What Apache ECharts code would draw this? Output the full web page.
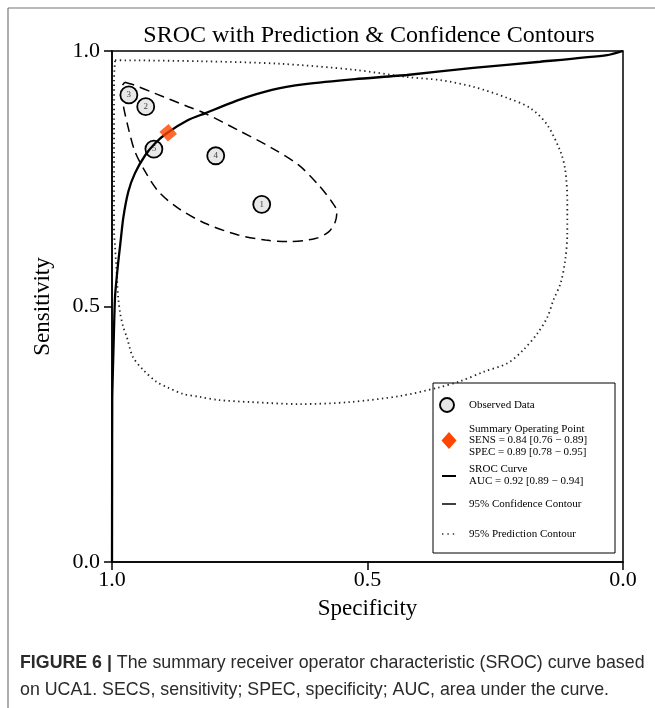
<!DOCTYPE html>
<html>
<head>
<meta charset="utf-8">
<script src="https://cdn.jsdelivr.net/npm/echarts@6/dist/echarts.min.js"></script>
<style>
  html, body { margin: 0; padding: 0; background: #fff; }
  #chart { width: 655px; height: 708px; }
</style>
</head>
<body>
<div id="chart"></div>
<script>
// Axis ticks
const tickValues = [0, 0.5, 1.0];

// Observed studies: [specificity, sensitivity], numbered 1..5
const studyIds = ['1', '2', '3', '4', '5'];
const studySpec = [0.707, 0.934, 0.967, 0.797, 0.918];
const studySens = [0.700, 0.891, 0.914, 0.795, 0.808];

// Summary operating point
const summarySpec = 0.89;
const summarySens = 0.84;

// SROC curve [specificity, sensitivity]
const srocCurve = [
  [1.0, 0.0], [0.9998, 0.15], [0.9995, 0.32], [0.997, 0.42], [0.994, 0.52],
  [0.988, 0.585], [0.984, 0.620], [0.978, 0.673], [0.968, 0.725], [0.955, 0.761],
  [0.935, 0.796], [0.916, 0.819], [0.893, 0.839], [0.851, 0.865], [0.818, 0.878],
  [0.753, 0.904], [0.687, 0.924], [0.622, 0.935], [0.524, 0.945], [0.423, 0.953],
  [0.293, 0.967], [0.162, 0.979], [0.031, 0.992], [0.0, 1.0]
];

// 95% confidence contour around the summary point
const confidenceContour = [
  [0.975, 0.939], [0.961, 0.935], [0.916, 0.917], [0.851, 0.891], [0.818, 0.878],
  [0.753, 0.845], [0.687, 0.810], [0.635, 0.777], [0.596, 0.738], [0.570, 0.705],
  [0.560, 0.686], [0.563, 0.666], [0.576, 0.646], [0.602, 0.633], [0.655, 0.627],
  [0.700, 0.630], [0.753, 0.640], [0.818, 0.663], [0.870, 0.692], [0.909, 0.725],
  [0.935, 0.764], [0.955, 0.803], [0.968, 0.849], [0.978, 0.894], [0.982, 0.927],
  [0.975, 0.939]
];

// 95% prediction contour
const predictionContour = [
  [0.994, 0.982], [0.828, 0.980], [0.671, 0.975], [0.524, 0.963], [0.422, 0.949],
  [0.357, 0.943], [0.293, 0.930], [0.226, 0.908], [0.181, 0.888], [0.148, 0.855],
  [0.122, 0.802], [0.113, 0.767], [0.109, 0.708], [0.109, 0.644], [0.113, 0.591],
  [0.122, 0.546], [0.136, 0.513], [0.148, 0.479], [0.167, 0.448], [0.195, 0.415],
  [0.226, 0.389], [0.273, 0.372], [0.318, 0.354], [0.363, 0.341], [0.436, 0.325],
  [0.534, 0.313], [0.632, 0.309], [0.730, 0.313], [0.792, 0.317], [0.828, 0.323],
  [0.861, 0.329], [0.892, 0.342], [0.912, 0.352], [0.939, 0.376], [0.959, 0.401],
  [0.971, 0.440], [0.978, 0.460], [0.984, 0.487], [0.988, 0.519], [0.990, 0.552],
  [0.994, 0.616], [0.996, 0.650], [0.996, 0.806], [0.996, 0.943], [0.994, 0.982]
];

// Legend text
const legendObserved = 'Observed Data';
const legendSummary = ['Summary Operating Point', 'SENS = 0.84 [0.76 \u2212 0.89]', 'SPEC = 0.89 [0.78 \u2212 0.95]'];
const legendSroc = ['SROC Curve', 'AUC = 0.92 [0.89 \u2212 0.94]'];
const legendConf = '95% Confidence Contour';
const legendPred = '95% Prediction Contour';

const serif = "'Liberation Serif', 'Times New Roman', serif";
const sans = "'Liberation Sans', Arial, sans-serif";

const chart = echarts.init(document.getElementById('chart'), null, { renderer: 'canvas' });

const studyData = studyIds.map((id, i) => ({ name: id, value: [studySpec[i], studySens[i]] }));

// Legend panel
const LX = 433, LY = 383, LW = 182, LH = 170;
const legendFont = { fontFamily: serif, fontSize: 11, fill: '#000' };
const legendText = (x, y, text) => ({
  type: 'text', x: x, y: y,
  style: Object.assign({ text: text, verticalAlign: 'middle', align: 'left' }, legendFont)
});
const legendGraphics = [
  { type: 'rect', shape: { x: LX, y: LY, width: LW, height: LH },
    style: { fill: '#fff', stroke: '#000', lineWidth: 1 } },
  { type: 'circle', shape: { cx: 447, cy: 405, r: 7 },
    style: { fill: '#e6e6e6', stroke: '#000', lineWidth: 1.9 } },
  legendText(469, 405, legendObserved),
  { type: 'polygon', shape: { points: [[449, 432], [456.5, 440.5], [449, 449], [441.5, 440.5]] },
    style: { fill: '#ff4500' } },
  legendText(469, 429, legendSummary[0]),
  legendText(469, 440.5, legendSummary[1]),
  legendText(469, 452, legendSummary[2]),
  { type: 'line', shape: { x1: 442, y1: 476, x2: 456, y2: 476 },
    style: { stroke: '#000', lineWidth: 2 } },
  legendText(469, 469.5, legendSroc[0]),
  legendText(469, 481, legendSroc[1]),
  { type: 'line', shape: { x1: 442, y1: 504, x2: 456, y2: 504 },
    style: { stroke: '#000', lineWidth: 1.5 } },
  legendText(469, 504, legendConf),
  { type: 'line', shape: { x1: 442, y1: 534, x2: 457, y2: 534 },
    style: { stroke: '#333', lineWidth: 1.5, lineDash: [1.4, 4] } },
  legendText(469, 534, legendPred)
];

const axisCommon = {
  type: 'value', min: 0, max: 1, interval: 0.5,
  axisLine: { show: true, onZero: false, lineStyle: { color: '#000', width: 1.5 } },
  axisTick: { show: true, inside: false, length: 8, lineStyle: { color: '#000', width: 1.5 } },
  splitLine: { show: false }
};

const option = {
  backgroundColor: '#fff',
  animation: false,
  title: {
    text: 'SROC with Prediction & Confidence Contours',
    left: 364, top: 19, textAlign: 'center',
    textStyle: { fontFamily: serif, fontSize: 24, fontWeight: 'normal', color: '#000' }
  },
  grid: {
    left: 112, right: 32, top: 51, bottom: 146,
    show: true, borderColor: '#000', borderWidth: 1.5, backgroundColor: 'transparent'
  },
  xAxis: Object.assign({}, axisCommon, {
    inverse: true,
    name: 'Specificity', nameLocation: 'middle', nameGap: 35,
    nameTextStyle: { fontFamily: serif, fontSize: 23, color: '#000' },
    axisLabel: { fontFamily: serif, fontSize: 22, color: '#000', margin: 7,
      formatter: v => (tickValues.indexOf(v) >= 0 ? v.toFixed(1) : '') }
  }),
  yAxis: Object.assign({}, axisCommon, {
    name: 'Sensitivity', nameLocation: 'middle', nameGap: 58,
    nameTextStyle: { fontFamily: serif, fontSize: 23, color: '#000' },
    axisLabel: { fontFamily: serif, fontSize: 22, color: '#000', margin: 12,
      formatter: v => (tickValues.indexOf(v) >= 0 ? v.toFixed(1) : '') }
  }),
  series: [
    {
      name: legendPred, type: 'line', data: predictionContour, smooth: 0.3,
      showSymbol: false, silent: true, z: 2,
      lineStyle: { color: '#222', width: 1.8, type: [1.4, 3.4] }
    },
    {
      name: legendConf, type: 'line', data: confidenceContour, smooth: 0.3,
      showSymbol: false, silent: true, z: 3,
      lineStyle: { color: '#000', width: 1.5, type: [10, 6] }
    },
    {
      name: legendObserved, type: 'scatter', data: studyData, z: 4,
      symbol: 'circle', symbolSize: 17,
      itemStyle: { color: '#e8e8e8', borderColor: '#000', borderWidth: 1.8, opacity: 1 },
      label: { show: true, position: 'inside', formatter: p => p.name,
        fontFamily: serif, fontSize: 9, color: '#444' }
    },
    {
      name: 'SROC Curve', type: 'line', data: srocCurve, smooth: 0.2,
      showSymbol: false, silent: true, z: 5,
      lineStyle: { color: '#000', width: 2.3 }
    },
    {
      name: legendSummary[0], type: 'scatter', data: [[summarySpec, summarySens]], z: 6,
      symbol: 'rect', symbolSize: [12, 13], symbolRotate: 40,
      itemStyle: { color: '#ff4500' }
    }
  ],
  graphic: [
    // figure frame
    { type: 'line', shape: { x1: 8, y1: 8, x2: 655, y2: 8 }, style: { stroke: '#777', lineWidth: 1.2 } },
    { type: 'line', shape: { x1: 8, y1: 8, x2: 8, y2: 708 }, style: { stroke: '#777', lineWidth: 1.2 } },
    // caption
    {
      type: 'text', x: 20, y: 663,
      style: {
        text: '{b|FIGURE 6 |} The summary receiver operator characteristic (SROC) curve based',
        fontFamily: sans, fontSize: 17.8, fill: '#2a2a2a', verticalAlign: 'middle',
        rich: { b: { fontFamily: sans, fontSize: 17.8, fontWeight: 'bold', fill: '#2a2a2a' } }
      }
    },
    {
      type: 'text', x: 20, y: 690,
      style: {
        text: 'on UCA1. SECS, sensitivity; SPEC, specificity; AUC, area under the curve.',
        fontFamily: sans, fontSize: 17.8, fill: '#2a2a2a', verticalAlign: 'middle'
      }
    }
  ].concat(legendGraphics)
};

chart.setOption(option);
</script>
</body>
</html>
